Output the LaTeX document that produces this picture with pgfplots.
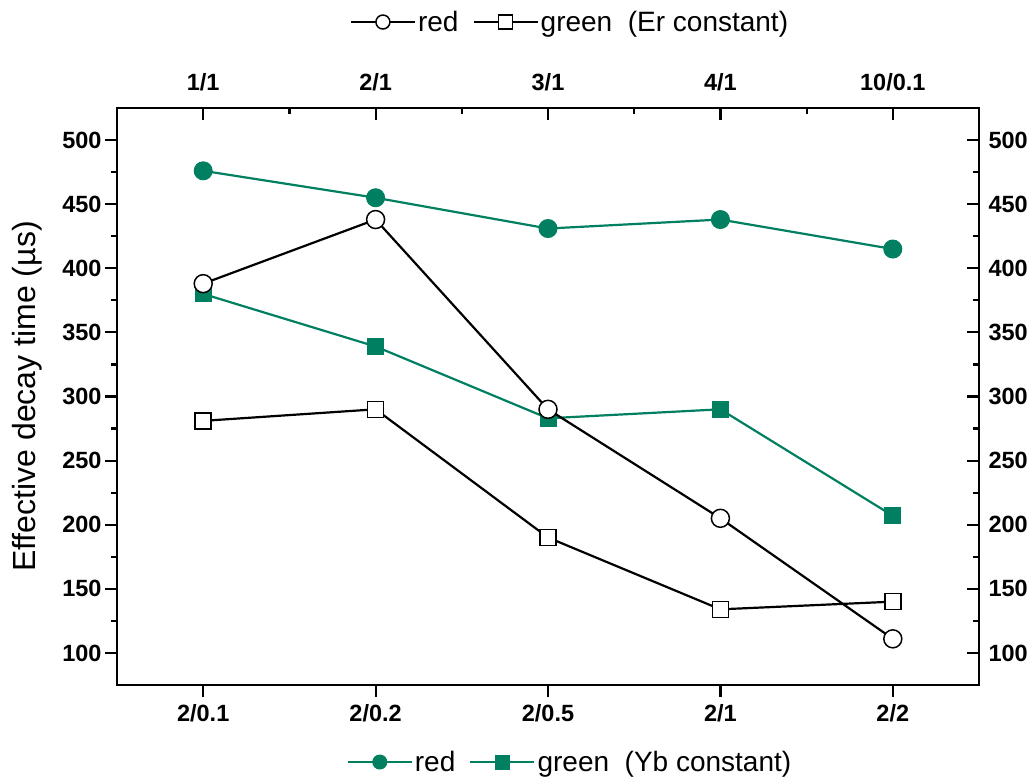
\documentclass[border=0pt]{standalone}
\usepackage{pgfplots}
\pgfplotsset{compat=1.18}
\usepackage{fontspec}
\setmainfont{Liberation Sans}
\definecolor{teal1}{RGB}{0,128,96}

\begin{document}
\begin{tikzpicture}
\path[use as bounding box] (0,0) rectangle (1034pt,778pt);
\pgfplotsset{
 common/.style={
  at={(117pt,93pt)}, anchor=south west, scale only axis, width=862pt, height=577pt,
  xmin=-0.5, xmax=4.5, ymin=75, ymax=525,
  xtick={0,...,4}, ytick={100,150,...,500},
  minor y tick num=1,
  axis line style={line width=2.7pt},
  major tick length=12pt, minor tick length=6pt,
  every tick/.style={line width=2.2pt, black},
  tick label style={font=\fontsize{23.5}{27}\selectfont\bfseries},
  /pgf/number format/assume math mode=true,
  legend style={draw=none, fill=none, font=\fontsize{28}{32}\selectfont, legend columns=-1, /tikz/every even column/.append style={column sep=12pt}},
  legend image code/.code={\draw[mark repeat=2,mark phase=2, mark size=7pt] plot coordinates {(0pt,0pt) (32pt,0pt) (64pt,0pt)};},
 }
}
\begin{axis}[common, xtick pos=bottom, ytick pos=left, tick align=outside,
  xticklabels={2/0.1,2/0.2,2/0.5,2/1,2/2},
  xticklabel style={yshift=-4pt},
  ylabel={Effective decay time (µs)},
  ylabel style={font=\fontsize{32}{36}\selectfont, at={(axis description cs:-0.104,0.5)}, anchor=center},
  legend style={at={(axis description cs:0.5255,-0.1335)}, anchor=center}]
\addplot[teal1, line width=2.2pt, mark=*, mark size=9pt, mark options={fill=teal1, draw=teal1, line width=1pt}] coordinates {(0,476) (1,455) (2,431) (3,438) (4,415)};
\addlegendentry{red}
\addplot[teal1, line width=2.2pt, mark=square*, mark size=8pt, mark options={fill=teal1, draw=teal1, line width=1pt}] coordinates {(0,380) (1,339) (2,283) (3,290) (4,207)};
\addlegendentry{green~~(Yb constant)}
\end{axis}
\begin{axis}[common, xtick pos=top, ytick pos=right, tick align=inside, minor x tick num=1,
  xticklabels={1/1,2/1,3/1,4/1,10/0.1}, xticklabel pos=top, yticklabel pos=right,
  xticklabel style={yshift=13pt}, yticklabel style={xshift=6pt},
  legend style={at={(axis description cs:0.5255,1.149)}, anchor=center}]
\addplot[black, line width=2.2pt, mark=*, mark size=9pt, mark options={fill=white, draw=black, line width=1.5pt}] coordinates {(0,388) (1,438) (2,290) (3,205) (4,111)};
\addlegendentry{red}
\addplot[black, line width=2.2pt, mark=square*, mark size=8pt, mark options={fill=white, draw=black, line width=1.5pt}] coordinates {(0,281) (1,290) (2,190) (3,134) (4,140)};
\addlegendentry{green~~(Er constant)}
\end{axis}
\end{tikzpicture}
\end{document}
